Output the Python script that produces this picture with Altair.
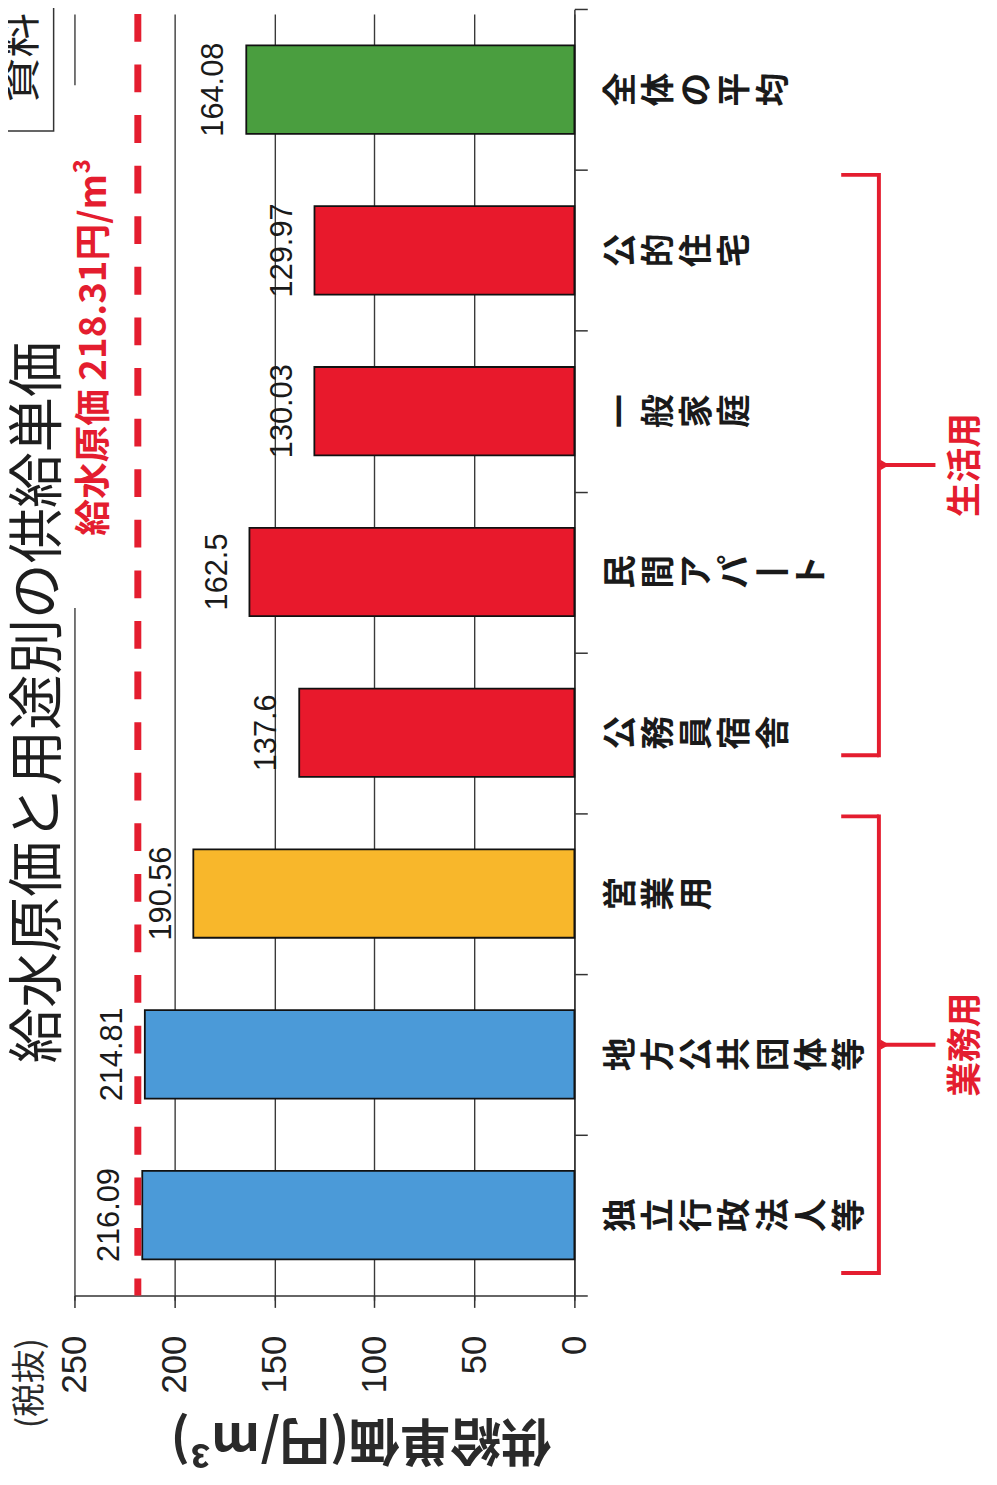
import altair as alt
import pandas as pd

# ---------------- data ----------------
categories = ["全体の平均", "公的住宅", "一般家庭", "民間アパート", "公務員宿舎",
              "営業用", "地方公共団体等", "独立行政法人等"]
unit_prices = [164.08, 129.97, 130.03, 162.5, 137.6, 190.56, 214.81, 216.09]
price_labels = ["164.08", "129.97", "130.03", "162.5", "137.6", "190.56", "214.81", "216.09"]
color_groups = ["全体", "生活用", "生活用", "生活用", "生活用", "営業用", "業務用", "業務用"]
supply_cost = 218.31
axis_ticks = [0, 50, 100, 150, 200, 250]
brace_groups = ["生活用", "業務用"]

title_text = "給水原価と用途別の供給単価"
cost_text = f"給水原価 {supply_cost:.2f}円/m³"
tax_text = "(税抜)"
unit_text = "供給単価(円/m³)"
doc_text = "資料"

# ---------------- styles / layout ----------------
PLOT_W, PLOT_H = 504, 1292
RED = "#e41d2f"
group_domain = ["全体", "生活用", "営業用", "業務用"]
group_range = ["#4a9e3f", "#e8192c", "#f8b72b", "#4b9ad8"]
JP = "Noto Sans CJK JP"
NUM = "Liberation Sans"
BAR_HALF = 0.275
# brace extents in category-index units
BRACE_SPANS = {"生活用": (0.53, 4.14), "業務用": (4.52, 7.36)}

n = len(categories)
df = pd.DataFrame({
    "cat": categories,
    "value": unit_prices,
    "label": price_labels,
    "cgroup": color_groups,
    "idx": list(range(n)),
})
# vertical-writing form: each character on its own line, long vowel mark as a vertical bar
df["vlabel"] = ["\n".join("丨" if ch == "ー" else ch for ch in c) for c in categories]

brace_df = pd.DataFrame({
    "group": brace_groups,
    "start": [BRACE_SPANS[g][0] for g in brace_groups],
    "end": [BRACE_SPANS[g][1] for g in brace_groups],
})
brace_df["mid"] = (brace_df["start"] + brace_df["end"]) / 2

xscale = alt.Scale(domain=[0, 250], reverse=True, nice=False, zero=True)
yscale = alt.Scale(domain=[-0.5, n - 0.5], range=[-4.7, PLOT_H], nice=False, zero=False)

x_axis = alt.Axis(values=axis_ticks, orient="bottom", grid=True,
                  gridColor="#3a3a3a", gridWidth=1.4,
                  domainColor="#333333", domainWidth=1.5,
                  tickColor="#333333", tickWidth=1.5, tickSize=12,
                  labelAngle=270, labelAlign="right", labelBaseline="middle",
                  labelPadding=28, labelFont=NUM, labelFontSize=35,
                  labelColor="#222222", labelFlush=False, labelOverlap=False,
                  title=None)
y_axis = alt.Axis(orient="right", values=[i - 0.5 for i in range(n + 1)],
                  labels=False, grid=False, tickSize=13, tickColor="#333333",
                  tickWidth=1.5, domainColor="#333333", domainWidth=1.5,
                  title=None)


def X(field):
    return alt.X(field, scale=xscale, axis=x_axis)


def Y(field):
    return alt.Y(field, scale=yscale, axis=y_axis)


one = pd.DataFrame({"t": [0]})

bars = alt.Chart(df).transform_calculate(
    y0=f"datum.idx - {BAR_HALF}", y1=f"datum.idx + {BAR_HALF}"
).mark_rect(stroke="#111111", strokeWidth=1.8).encode(
    x=X("value:Q"),
    x2=alt.datum(0),
    y=Y("y0:Q"),
    y2="y1:Q",
    color=alt.Color("cgroup:N", scale=alt.Scale(domain=group_domain, range=group_range),
                    legend=None),
)

# white box hiding the 250 grid line behind the red annotation
mask = alt.Chart(one).mark_rect(fill="white").encode(
    x=alt.value(-15), x2=alt.value(43), y=alt.value(72), y2=alt.value(599))

cost_rule = alt.Chart(pd.DataFrame({"cost": [supply_cost]})).mark_rule(
    color=RED, strokeWidth=7, strokeDash=[28, 23]
).encode(x=X("cost:Q"))

value_text = alt.Chart(df).mark_text(
    angle=270, align="center", baseline="alphabetic", dy=-23,
    font=NUM, fontSize=31, color="#1a1a1a"
).encode(x=X("value:Q"), y=Y("idx:Q"), text="label:N")

cat_text = alt.Chart(df).mark_text(
    angle=270, align="center", baseline="top", lineBreak="\n", lineHeight=38.5,
    font=JP, fontSize=34, fontWeight="bold", color="#1a1a1a"
).encode(x=alt.value(535), y=Y("idx:Q"), text="vlabel:N")

brace_v = alt.Chart(brace_df).mark_rule(color=RED, strokeWidth=4, strokeCap="square").encode(
    x=alt.value(811), y=Y("start:Q"), y2="end:Q")
brace_top = alt.Chart(brace_df).mark_rule(color=RED, strokeWidth=4).encode(
    x=alt.value(773), x2=alt.value(811), y=Y("start:Q"))
brace_bot = alt.Chart(brace_df).mark_rule(color=RED, strokeWidth=4).encode(
    x=alt.value(773), x2=alt.value(811), y=Y("end:Q"))
brace_mid = alt.Chart(brace_df).mark_rule(color=RED, strokeWidth=4).encode(
    x=alt.value(811), x2=alt.value(868), y=Y("mid:Q"))
brace_tip = alt.Chart(brace_df).mark_point(
    shape="triangle-right", filled=True, size=110, color=RED, opacity=1
).encode(x=alt.value(817), y=Y("mid:Q"))
brace_label = alt.Chart(brace_df).mark_text(
    angle=270, align="center", baseline="middle", font=JP, fontSize=35,
    fontWeight="bold", color=RED
).encode(x=alt.value(899), y=Y("mid:Q"), text="group:N")

title = alt.Chart(pd.DataFrame({"t": [title_text]})).mark_text(
    angle=270, align="center", baseline="middle", font=JP, fontSize=56, color="#1e1e1e"
).encode(x=alt.value(-36), y=alt.value(694), text="t:N")

cost_label = alt.Chart(pd.DataFrame({"t": [cost_text]})).mark_text(
    angle=270, align="center", baseline="middle", font=JP, fontSize=37,
    fontWeight="bold", color=RED
).encode(x=alt.value(21), y=alt.value(336), text="t:N")

tax_label = alt.Chart(pd.DataFrame({"t": [tax_text]})).mark_text(
    angle=270, align="right", baseline="middle", font=JP, fontSize=34, color="#2a2a2a"
).encode(x=alt.value(-44), y=alt.value(1335), text="t:N")

unit_label = alt.Chart(pd.DataFrame({"t": [unit_text]})).mark_text(
    angle=180, align="center", baseline="middle", font=JP, fontSize=51,
    fontWeight="bold", color="#2a2a2a"
).encode(x=alt.value(289), y=alt.value(1436), text="t:N")

doc_box = alt.Chart(one).mark_rect(fill="white", stroke="#333333", strokeWidth=1.5).encode(
    x=alt.value(-90), x2=alt.value(-21), y=alt.value(-20), y2=alt.value(118))
doc_label = alt.Chart(pd.DataFrame({"t": [doc_text]})).mark_text(
    angle=270, align="left", baseline="middle", font=JP, fontSize=45, color="#1e1e1e"
).encode(x=alt.value(-54), y=alt.value(89), text="t:N")

chart = alt.layer(
    bars, mask, cost_rule, value_text, cat_text,
    brace_v, brace_top, brace_bot, brace_mid, brace_tip, brace_label,
    title, cost_label, tax_label, unit_label, doc_box, doc_label,
).properties(
    width=PLOT_W, height=PLOT_H,
    padding={"left": 67, "top": 0, "right": 418, "bottom": 175},
    autosize=alt.AutoSizeParams(type="none"),
    background="white",
).configure_view(stroke="transparent")

chart.save("out.html", embed_options={"renderer": "svg", "actions": False})
